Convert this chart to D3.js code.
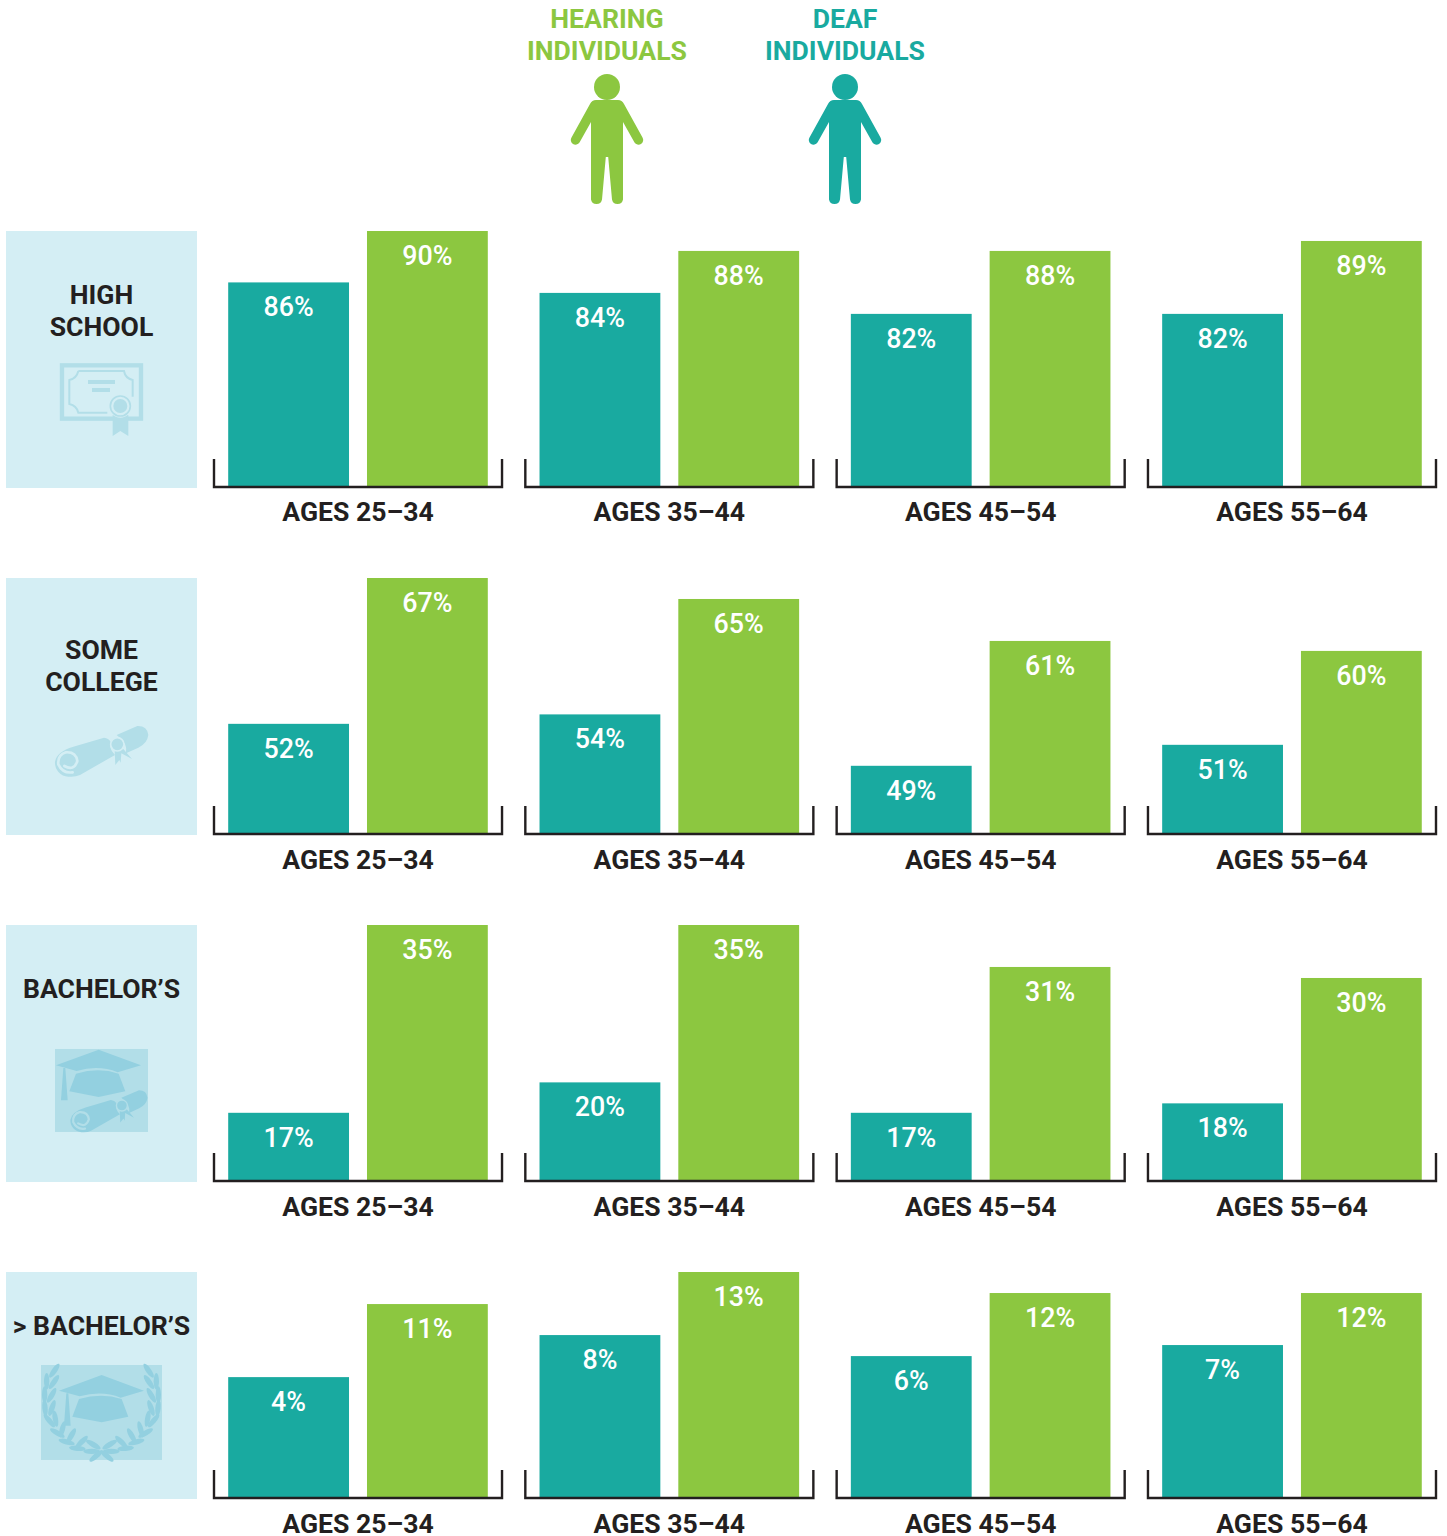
<!DOCTYPE html>
<html><head><meta charset="utf-8">
<script src="https://cdn.jsdelivr.net/npm/d3@7/dist/d3.min.js"></script>
<style>html,body{margin:0;padding:0;background:#fff}svg{display:block}text{font-family:Roboto,sans-serif}</style>
</head><body><svg id="c" width="1447" height="1536"></svg>
<script>
// ---- data ----
const ageGroups = ["AGES 25–34","AGES 35–44","AGES 45–54","AGES 55–64"];
const series = ["DEAF","HEARING"];
const levels = [["HIGH","SCHOOL"],["SOME","COLLEGE"],["BACHELOR’S"],["> BACHELOR’S"]];
// printed percentages
const deafLabels = [[86,84,82,82],[52,54,49,51],[17,20,17,18],[4,8,6,7]];
const hearingLabels = [[90,88,88,89],[67,65,61,60],[35,35,31,30],[11,13,12,12]];
// bar lengths as drawn in the reference, on each row's truncated axis
const deafDrawn = [[85.1,84.1,82.1,82.1],[53.1,54,49.1,51.1],[17.1,20,17.1,18],[3,7,5,6.05]];
const hearingDrawn = [[90,88.1,88.1,89.05],[67,65,61,60.05],[35,35,31,29.95],[9.95,13,11,11]];
const axisFloors = [65.6,42.6,10.6,-8.5];
const axisTops = [90,67,35,13];

// ---- layout ----
const rowTop = [231,578,925,1272], rowBase = [487,834,1181,1498];
const labelBase = [521,869,1216,1533];
const titleBase = [[304,336],[659,691],[998],[1335]];
const TEAL="#19aaa0", GREEN="#8cc740", INK="#231f20", PANEL="#d4eef4", ICON="#b2dee8", ICON2="#93d0e0";
const svg = d3.select("#c");
const x0 = d3.scaleBand().domain(ageGroups).range([213,1437]).paddingInner(0.0684);
const x1 = d3.scaleBand().domain(series).range([15.2,274.8]).paddingInner(0.1295);

// ---- legend ----
function person(g,c,cx){
  g.append("circle").attr("cx",cx).attr("cy",87).attr("r",13).attr("fill",c);
  g.append("path").attr("fill",c).attr("transform",`translate(${cx},0)`)
   .attr("d","M-11,100 L11,100 Q15,100 17,104 L35.5,137.5 A4.6,4.6 0 0 1 27.5,142.5 L16,122 L16,199.5 A5.6,5.6 0 0 1 5,199.5 L1.2,157 L-1.2,157 L-5,199.5 A5.6,5.6 0 0 1 -16,199.5 L-16,122 L-27.5,142.5 A4.6,4.6 0 0 1 -35.5,137.5 L-17,104 Q-15,100 -11,100 Z");
}
[{n:"HEARING",c:GREEN,x:607},{n:"DEAF",c:TEAL,x:845}].forEach(d=>{
  const g=svg.append("g");
  [[d.n,27.6],["INDIVIDUALS",60]].forEach(([t,y])=>g.append("text").text(t).attr("x",d.x).attr("y",y)
    .attr("text-anchor","middle").attr("font-size",26.6).attr("font-weight",700).attr("fill",d.c));
  person(g,d.c,d.x);
});

// ---- icons (drawn in 3x coordinates of their panel) ----
function gown(g,dx,dy,c){
  const h=g.append("g").attr("transform",`translate(${dx},${dy})`).attr("fill",c);
  h.append("path").attr("d","M0,47 L128,0 L255,47 L185,68 Q128,45 62,64 Z");
  h.append("path").attr("d","M60,72 Q128,52 188,72 L208,125 L128,142 L40,125 Z");
  h.append("path").attr("d","M22,55 L28,55 L35,152 L15,152 Z");
}
function scroll(g,dx,dy,k,c,bg){
  const h=g.append("g").attr("transform",`translate(${dx},${dy}) scale(${k})`);
  h.append("path").attr("fill",c).attr("d","M220,515 L312,488 Q326,490 332,500 Q325,520 345,540 L240,600 Q225,607 205,605 A42,42 0 0 1 165,560 Q170,530 220,515 Z");
  h.append("path").attr("fill",c).attr("d","M350,480 L412,453 Q442,452 445,480 Q442,505 415,518 L378,535 Q385,505 350,480 Z");
  h.append("path").attr("fill","none").attr("stroke",bg).attr("stroke-width",8).attr("stroke-linecap","round").attr("d","M193,573 Q222,590 232,558 Q228,530 198,532 Q172,540 175,568 Q188,596 218,592");
  h.append("path").attr("fill",c).attr("d","M344,525 L346,570 L358,555 L362,563 L364,535 L396,552 L368,520 Z");
  h.append("circle").attr("cx",352).attr("cy",508).attr("r",20).attr("fill",c).attr("stroke",bg).attr("stroke-width",5);
}
const iconFns = [
 g=>{ g=g.append("g").attr("transform","translate(0,225) scale(.3333)");
   g.append("rect").attr("x",186).attr("y",421).attr("width",237).attr("height",160).attr("fill","none").attr("stroke",ICON).attr("stroke-width",13);
   g.append("path").attr("fill","none").attr("stroke",ICON).attr("stroke-width",6).attr("d","M235,438 L372,438 Q376,460 398,465 L398,515 M322,563 L235,563 Q230,542 208,537 L208,465 Q230,460 235,438");
   g.append("rect").attr("x",264).attr("y",465).attr("width",81).attr("height",12).attr("fill",ICON);
   g.append("rect").attr("x",276).attr("y",489).attr("width",54).attr("height",12).attr("fill",ICON);
   g.append("path").attr("fill",ICON).attr("d","M338,570 L385,570 L385,633 L361,618 L338,633 Z");
   g.append("circle").attr("cx",361).attr("cy",543).attr("r",35).attr("fill",PANEL);
   g.append("circle").attr("cx",361).attr("cy",543).attr("r",30).attr("fill","none").attr("stroke",ICON).attr("stroke-width",5);
   g.append("circle").attr("cx",361).attr("cy",543).attr("r",21).attr("fill",ICON);
 },
 g=>{ g=g.append("g").attr("transform","translate(0,575) scale(.3333)"); scroll(g,0,0,1,ICON,PANEL); },
 g=>{ g=g.append("g").attr("transform","translate(0,920) scale(.3333)");
   g.append("rect").attr("x",165).attr("y",387).attr("width",279).attr("height",249).attr("fill",ICON);
   gown(g,168,389,ICON2);
   scroll(g,75,137,0.826,ICON2,ICON);
 },
 g=>{ g=g.append("g").attr("transform","translate(0,1268) scale(.3333)");
   g.append("rect").attr("x",123).attr("y",291).attr("width",363).attr("height",285).attr("fill",ICON);
   gown(g,177,321,ICON2);
   const leaves=[[163,308,-55],[140,340,90],[162,342,-55],[134,380,90],[155,382,-60],[135,420,85],[156,420,-70],[148,458,50],[166,452,-100],[172,495,30],[187,484,-75],[200,522,15],[214,503,-60],[232,541,5],[245,522,-45],[275,550,0],[280,530,30],[288,564,-40]];
   [1,-1].forEach(s=>leaves.forEach(([x,y,a])=>{
     const px = s>0?x:609-x;
     g.append("ellipse").attr("rx",25).attr("ry",8).attr("fill",ICON2)
      .attr("transform",`translate(${px},${y}) rotate(${s*a})`);
   }));
 }
];

// ---- rows ----
levels.forEach((title,r)=>{
  const y=d3.scaleLinear().domain([axisFloors[r],axisTops[r]]).range([rowBase[r],rowTop[r]]);
  const row=svg.append("g");
  row.append("rect").attr("x",6).attr("y",rowTop[r]).attr("width",191).attr("height",rowBase[r]+1-rowTop[r]).attr("fill",PANEL);
  title.forEach((t,i)=>row.append("text").text(t).attr("x",101.5).attr("y",titleBase[r][i]).attr("text-anchor","middle")
    .attr("font-size",26.6).attr("font-weight",700).attr("fill",INK));
  iconFns[r](row);

  ageGroups.forEach((age,a)=>{
    const g=row.append("g").attr("transform",`translate(${x0(age)},0)`);
    const vals=[
      {s:"DEAF",v:deafDrawn[r][a],l:deafLabels[r][a],c:TEAL},
      {s:"HEARING",v:hearingDrawn[r][a],l:hearingLabels[r][a],c:GREEN}];
    g.selectAll("rect").data(vals).join("rect")
      .attr("x",d=>x1(d.s)).attr("width",x1.bandwidth())
      .attr("y",d=>y(d.v)).attr("height",d=>y.range()[0]-y(d.v)+1).attr("fill",d=>d.c);
    g.selectAll("text.v").data(vals).join("text").attr("class","v")
      .attr("x",d=>x1(d.s)+x1.bandwidth()/2).attr("y",d=>y(d.v)+34)
      .attr("text-anchor","middle").attr("font-size",26.8).attr("font-weight",500).attr("fill","#fff")
      .text(d=>d.l+"%");
    const p=d3.path(), w=x0.bandwidth(), b=rowBase[r];
    p.moveTo(1,b-28); p.lineTo(1,b); p.lineTo(w-1,b); p.lineTo(w-1,b-28);
    g.append("path").attr("d",p.toString()).attr("fill","none").attr("stroke",INK).attr("stroke-width",2.4);
    g.append("text").text(age).attr("x",w/2).attr("y",labelBase[r]).attr("text-anchor","middle")
      .attr("font-size",26.6).attr("font-weight",700).attr("fill",INK);
  });
});
</script></body></html>
